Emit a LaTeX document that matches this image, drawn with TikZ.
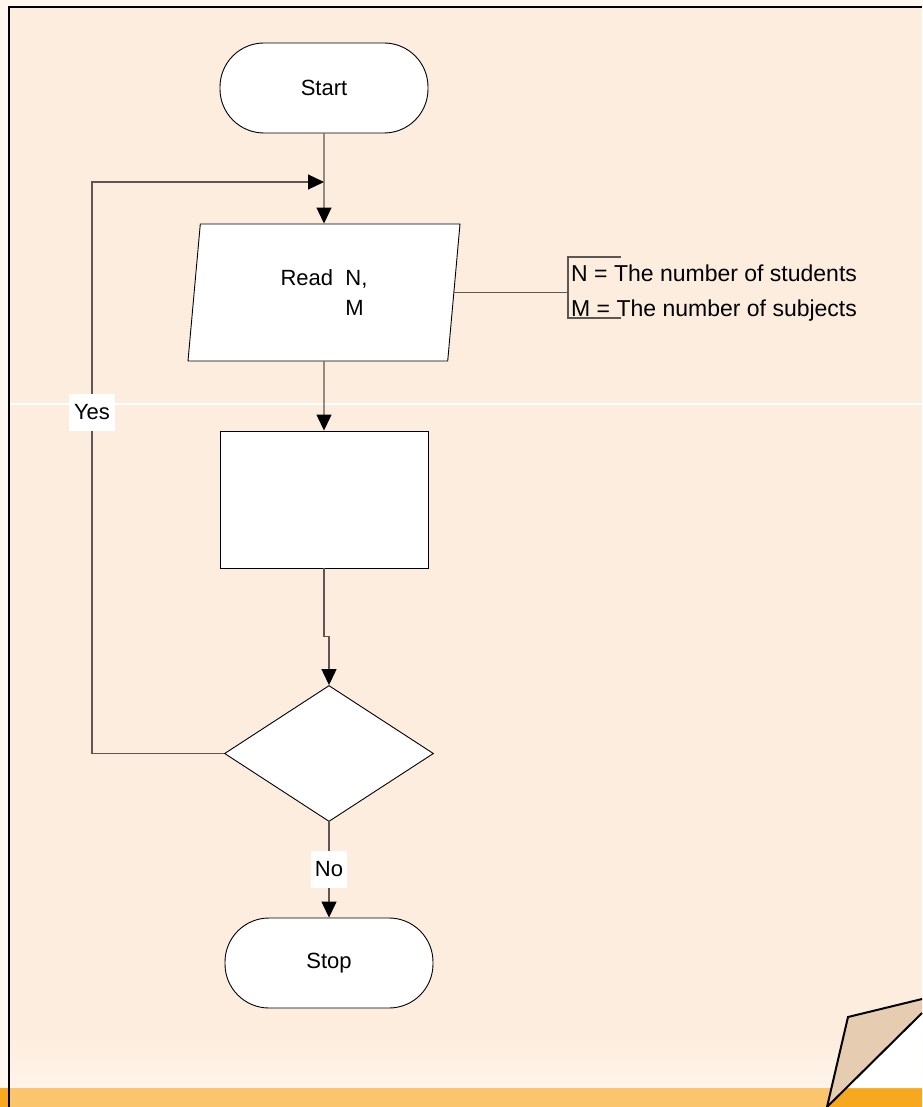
\documentclass[tikz,border=0pt]{standalone}
\usepackage{fontspec}
\setmainfont{Liberation Sans}
\usetikzlibrary{shapes.geometric,arrows.meta}
\definecolor{peach}{HTML}{FDEDDE}
\definecolor{peachlight}{HTML}{FEF4EA}
\definecolor{outer}{HTML}{FFF7F0}
\definecolor{bandlight}{HTML}{FBC56E}
\definecolor{banddark}{HTML}{F7A81E}
\definecolor{fold}{HTML}{E6CDB1}
\definecolor{wire}{HTML}{5E5652}
\begin{document}
\begin{tikzpicture}[x=1pt,y=-1pt,
  every node/.style={font=\fontsize{22}{30}\selectfont},
  shapebox/.style={draw=black,line width=0.9pt,fill=white,inner sep=0pt},
  terminal/.style={shapebox,rectangle,rounded corners=44pt,minimum width=208pt,minimum height=90pt},
  iobox/.style={shapebox,trapezium,trapezium left angle=75,trapezium right angle=105,
    trapezium stretches body,minimum width=272pt,minimum height=137pt,align=left},
  procbox/.style={shapebox,rectangle,minimum width=208pt,minimum height=137pt},
  decision/.style={shapebox,diamond,minimum width=209pt,minimum height=136pt},
  conn/.style={draw=wire,line width=1.2pt},
  flow/.style={conn,-{Triangle[length=16pt,width=15pt,color=black]}},
  edgelabel/.style={fill=white,inner sep=0pt,minimum height=37pt}
]
\useasboundingbox (0,0) rectangle (922,1107);

% page backdrop
\fill[outer] (0,0) rectangle (922,1107);
\fill[peach] (9,7) rectangle (922,1088);
\shade[top color=peach,bottom color=peachlight] (9,1035) rectangle (922,1088);
\draw[white,line width=1.2pt] (9,404) -- (922,404);

% bottom band
\fill[banddark] (0,1088) rectangle (9,1107);
\fill[bandlight] (9,1088) -- (846,1088) -- (827,1107) -- (9,1107) -- cycle;
\fill[banddark] (846,1088) -- (922,1088) -- (922,1107) -- (827,1107) -- cycle;
\fill[white] (846,1088) -- (922,1013) -- (922,1088) -- cycle;

% curled page corner
\filldraw[fill=fold,draw=black,line width=2pt,line join=miter]
  (922,999) -- (848,1017) -- (827,1107) -- (922,1013);

% frame
\draw[black,line width=2.5pt] (9,1107) -- (9,7) -- (922,7);

% flowchart blocks
\node[terminal] (start) at (324,88) {Start};
\node[iobox] (read) at (324,292.5) {Read\ \ N,\\\hphantom{Read\ \ }M};
\node[procbox] (proc) at (324,499.5) {};
\node[decision] (dec) at (329,753.5) {};
\node[terminal] (stop) at (329,963) {Stop};

% annotation
\node[anchor=west,align=left,inner xsep=3pt,inner ysep=0pt,
  font=\fontsize{23}{35}\selectfont] (note) at (568,293.5)
  {N = The number of students\\M = The number of subjects};

% loop junction points
\coordinate (merge) at (324,182);
\coordinate (loopbot) at (92,753.5);
\coordinate (looptop) at (92,182);

% connectors
\draw[flow] (start) -- (read);
\draw[flow] (read) -- (proc);
\draw[flow] (proc.south) -- ++(0,68) -| (dec.north);
\draw[flow] (dec.west) -- (loopbot) -- (looptop) -- (merge);
\draw[flow] (dec.south) -- (stop.north);
\draw[conn] (read.east) -- (read.east -| note.west);
\draw[conn] ([xshift=53pt,yshift=36.5pt]note.west) -- ([yshift=36.5pt]note.west)
  -- ([yshift=-24.5pt]note.west) -- ([xshift=53pt,yshift=-24.5pt]note.west);

% branch labels
\node[edgelabel,minimum width=46pt] (yes) at (92,412) {Yes};
\node[edgelabel,minimum width=36pt] (no) at (329,869.5) {No};
\end{tikzpicture}
\end{document}
